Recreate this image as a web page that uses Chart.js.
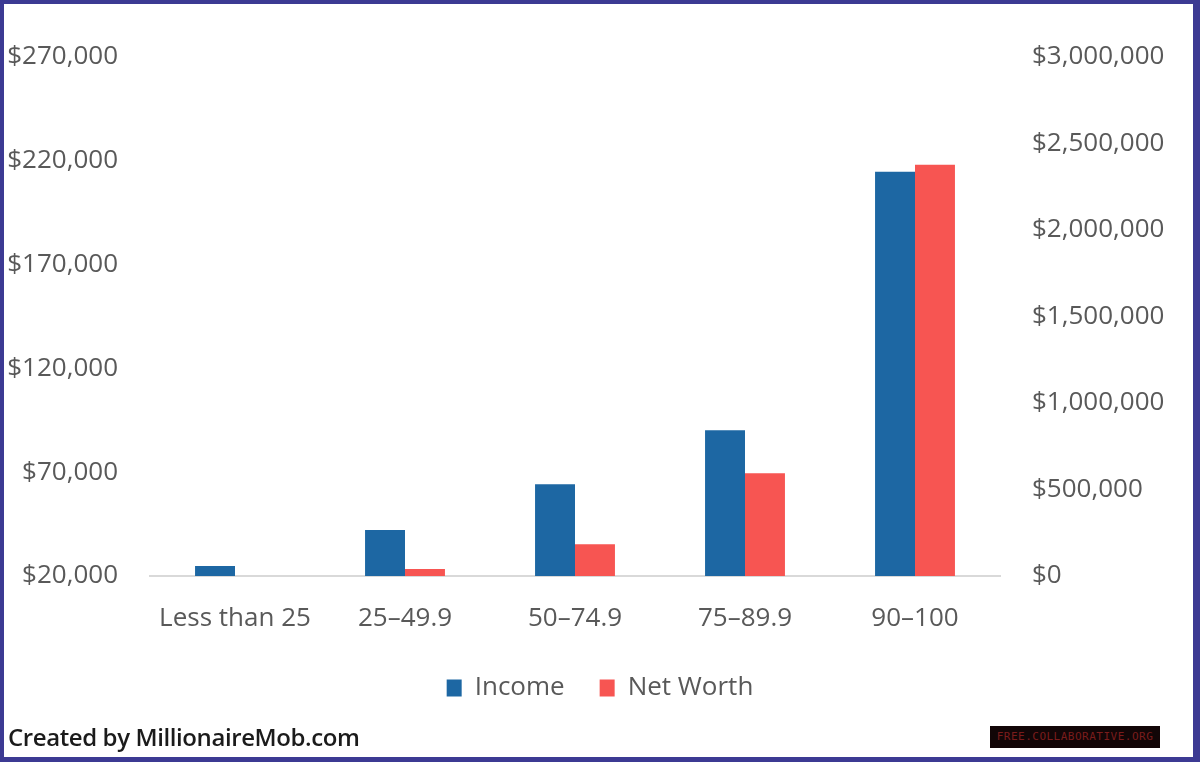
<!DOCTYPE html>
<html>
<head>
<meta charset="utf-8">
<script src="https://cdn.jsdelivr.net/npm/chart.js@4.4.0/dist/chart.umd.min.js"></script>
<style>
    html, body { margin: 0; padding: 0; background: #ffffff; }
    #wrap { position: relative; width: 1200px; height: 762px; overflow: hidden; background: #ffffff; }
    #chartBox { position: absolute; left: 0; top: 0; width: 1200px; height: 762px; }
    #frame {
        position: absolute; left: 0; top: 0; width: 1200px; height: 762px; box-sizing: border-box;
        border-style: solid; border-color: #3c3a93;
        border-width: 4px 7px 5px 4px; pointer-events: none;
    }
    #credit {
        position: absolute; left: 8px; top: 720px;
        font-family: "Open Sans", sans-serif; font-weight: 600; font-size: 24px; color: #1b1b1b;
        letter-spacing: -0.4px;
    }
    #stamp {
        position: absolute; left: 990px; top: 726px; width: 170px; height: 22px;
        background: #120607; color: #7a1c1c; font-family: "DejaVu Sans Mono", monospace;
        font-size: 11px; line-height: 22px; text-align: center; letter-spacing: 0.5px;
    }
</style>
</head>
<body>
<div id="wrap">
    <div id="chartBox"><canvas id="wealthChart"></canvas></div>
    <div id="credit">Created by MillionaireMob.com</div>
    <div id="stamp">FREE.COLLABORATIVE.ORG</div>
    <div id="frame"></div>
</div>
<script>
// Dados
const categories = ['Less than 25', '25\u201349.9', '50\u201374.9', '75\u201389.9', '90\u2013100'];
const incomeValues = [24800, 42100, 64200, 90200, 214700];     // eixo esquerdo
const netWorthValues = [0, 40000, 184000, 594000, 2377000];   // eixo direito

const leftTicks = [20000, 70000, 120000, 170000, 220000, 270000];
const rightTicks = [0, 500000, 1000000, 1500000, 2000000, 2500000, 3000000];

const textColor = '#595959';
const fontFamily = '"Open Sans", sans-serif';

function money(v) {
    return '$' + Number(v).toLocaleString('en-US');
}

const ctx = document.getElementById('wealthChart').getContext('2d');
const wealthChart = new Chart(ctx, {
    type: 'bar',
    data: {
        labels: categories,
        datasets: [{
            label: 'Income',
            data: incomeValues,
            backgroundColor: '#1d67a3',
            yAxisID: 'y',
            categoryPercentage: 0.47,
            barPercentage: 1
        }, {
            label: 'Net Worth',
            data: netWorthValues,
            backgroundColor: '#f75552',
            yAxisID: 'y1',
            categoryPercentage: 0.47,
            barPercentage: 1
        }]
    },
    options: {
        responsive: true,
        maintainAspectRatio: false,
        animation: false,
        layout: { padding: { top: 57, left: 0, right: 0, bottom: 51 } },
        plugins: {
            tooltip: { enabled: false },
            legend: {
                position: 'bottom',
                labels: {
                    color: textColor,
                    font: { family: fontFamily, size: 26 },
                    boxWidth: 15,
                    boxHeight: 17,
                    padding: 35
                }
            }
        },
        scales: {
            x: {
                grid: { display: false },
                border: { display: true, color: '#d9d9d9', width: 2 },
                ticks: {
                    color: textColor,
                    font: { family: fontFamily, size: 26 },
                    padding: 19,
                    maxRotation: 0
                },
                afterFit: (scale) => { scale.height = 64; }
            },
            y: {
                position: 'left',
                min: leftTicks[0],
                max: leftTicks[leftTicks.length - 1],
                grid: { display: false },
                border: { display: false },
                afterBuildTicks: (scale) => { scale.ticks = leftTicks.map(v => ({ value: v })); },
                ticks: {
                    color: textColor,
                    font: { family: fontFamily, size: 26 },
                    padding: 24,
                    callback: (v) => money(v)
                },
                afterFit: (scale) => { scale.width = 150; }
            },
            y1: {
                position: 'right',
                min: rightTicks[0],
                max: rightTicks[rightTicks.length - 1],
                grid: { display: false },
                border: { display: false },
                afterBuildTicks: (scale) => { scale.ticks = rightTicks.map(v => ({ value: v })); },
                ticks: {
                    color: textColor,
                    font: { family: fontFamily, size: 26 },
                    padding: 24,
                    callback: (v) => money(v)
                },
                afterFit: (scale) => { scale.width = 200; }
            }
        }
    }
});
</script>
</body>
</html>
